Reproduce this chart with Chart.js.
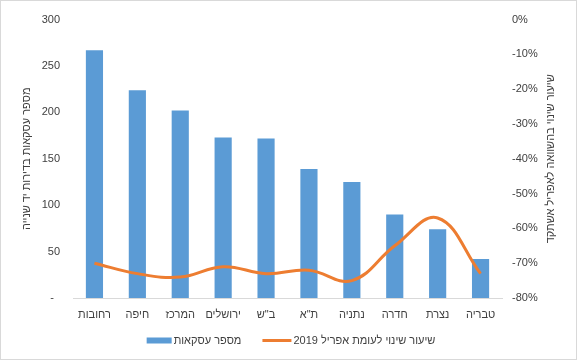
<!DOCTYPE html>
<html lang="he">
<head>
<meta charset="utf-8">
<script src="https://cdn.jsdelivr.net/npm/chart.js@4/dist/chart.umd.min.js"></script>
<style>
  html, body { margin: 0; padding: 0; background: #fff; }
  #wrap { width: 577px; height: 360px; position: relative; }
</style>
</head>
<body>
<div id="wrap"><canvas id="c" width="577" height="360"></canvas></div>
<script>
const categories = ["רחובות", "חיפה", "המרכז", "ירושלים", "ב\"ש", "ת\"א", "נתניה", "חדרה", "נצרת", "טבריה"];
const dealCounts = [267, 224, 202, 173, 172, 139, 125, 90, 74, 42];
const changePct = [-70, -73, -74, -71, -73, -72, -75, -65, -57, -73];
const barLabel = "מספר עסקאות";
const lineLabel = "שיעור שינוי לעומת אפריל 2019";
const leftTitle = "מספר עסקאות בדירות יד שנייה";
const rightTitle = "שיעור שינוי בהשוואה לאפריל אשתקד";

const FONT = "'Liberation Sans', Arial, 'DejaVu Sans', sans-serif";
const TXT = "#404040";
const BLUE = "#5b9bd5";
const ORANGE = "#ed7d31";

const extras = {
  id: 'extras',
  afterDraw(chart) {
    const ctx = chart.ctx;
    const ca = chart.chartArea;
    ctx.save();
    // border
    ctx.strokeStyle = '#d9d9d9';
    ctx.lineWidth = 1;
    ctx.strokeRect(0.5, 0.5, 576, 359);
    // axis titles (both read bottom-to-top)
    ctx.fillStyle = TXT;
    ctx.font = "11px " + FONT;
    ctx.textAlign = 'center';
    ctx.textBaseline = 'middle';
    const cy = (ca.top + ca.bottom) / 2;
    ctx.save();
    ctx.translate(27, cy);
    ctx.rotate(-Math.PI / 2);
    ctx.fillText(leftTitle, 0, 0);
    ctx.restore();
    ctx.save();
    ctx.translate(551, cy);
    ctx.rotate(-Math.PI / 2);
    ctx.fillText(rightTitle, 0, 0);
    ctx.restore();
    // legend
    ctx.font = "11px " + FONT;
    ctx.textAlign = 'left';
    const w1 = ctx.measureText(chart.data.datasets[0].label).width;
    const w2 = ctx.measureText(chart.data.datasets[1].label).width;
    const boxW = 25, gap = 2, itemGap = 21;
    const total = boxW + gap + w1 + itemGap + 29 + gap + w2;
    let x = 291 - total / 2;
    const ly = 340.5;
    ctx.fillStyle = chart.data.datasets[0].backgroundColor;
    ctx.fillRect(x, ly - 3, boxW, 6);
    x += boxW + gap;
    ctx.fillStyle = TXT;
    ctx.fillText(chart.data.datasets[0].label, x, ly);
    x += w1 + itemGap;
    ctx.strokeStyle = chart.data.datasets[1].borderColor;
    ctx.lineWidth = 3;
    ctx.beginPath();
    ctx.moveTo(x, ly);
    ctx.lineTo(x + 29, ly);
    ctx.stroke();
    x += 29 + gap;
    ctx.fillText(chart.data.datasets[1].label, x, ly);
    ctx.restore();
  }
};

new Chart(document.getElementById('c'), {
  data: {
    labels: categories,
    datasets: [
      {
        type: 'bar',
        label: barLabel,
        data: dealCounts,
        backgroundColor: BLUE,
        yAxisID: 'y',
        barPercentage: 0.4,
        categoryPercentage: 1.0,
        order: 2
      },
      {
        type: 'line',
        label: lineLabel,
        data: changePct,
        borderColor: ORANGE,
        backgroundColor: ORANGE,
        borderWidth: 3,
        pointRadius: 0,
        tension: 0.4,
        yAxisID: 'y1',
        order: 1
      }
    ]
  },
  options: {
    responsive: false,
    animation: false,
    devicePixelRatio: 1,
    layout: { padding: { top: 15, left: 0, right: 0, bottom: 0 } },
    plugins: {
      legend: { display: false },
      tooltip: { enabled: false }
    },
    scales: {
      x: {
        grid: { display: false, drawTicks: false },
        border: { display: true, color: '#d9d9d9', width: 1 },
        ticks: {
          color: TXT,
          font: { family: FONT, size: 11 },
          padding: 10,
          maxRotation: 0,
          autoSkip: false
        },
        afterFit(s) { s.height = 62; }
      },
      y: {
        position: 'left',
        min: 0, max: 300,
        grid: { display: false, drawTicks: false },
        border: { display: false },
        ticks: {
          stepSize: 50,
          color: TXT,
          font: { family: FONT, size: 11 },
          padding: 13,
          callback: v => v === 0 ? '-  ' : String(v)
        },
        afterFit(s) { s.width = 73; }
      },
      y1: {
        position: 'right',
        min: -80, max: 0,
        grid: { display: false, drawTicks: false },
        border: { display: false },
        ticks: {
          stepSize: 10,
          color: TXT,
          font: { family: FONT, size: 11 },
          padding: 10,
          callback: v => (v === 0 ? '0' : String(Math.round(v))) + '%'
        },
        afterFit(s) { s.width = 75; }
      }
    }
  },
  plugins: [extras]
});
</script>
</body>
</html>
